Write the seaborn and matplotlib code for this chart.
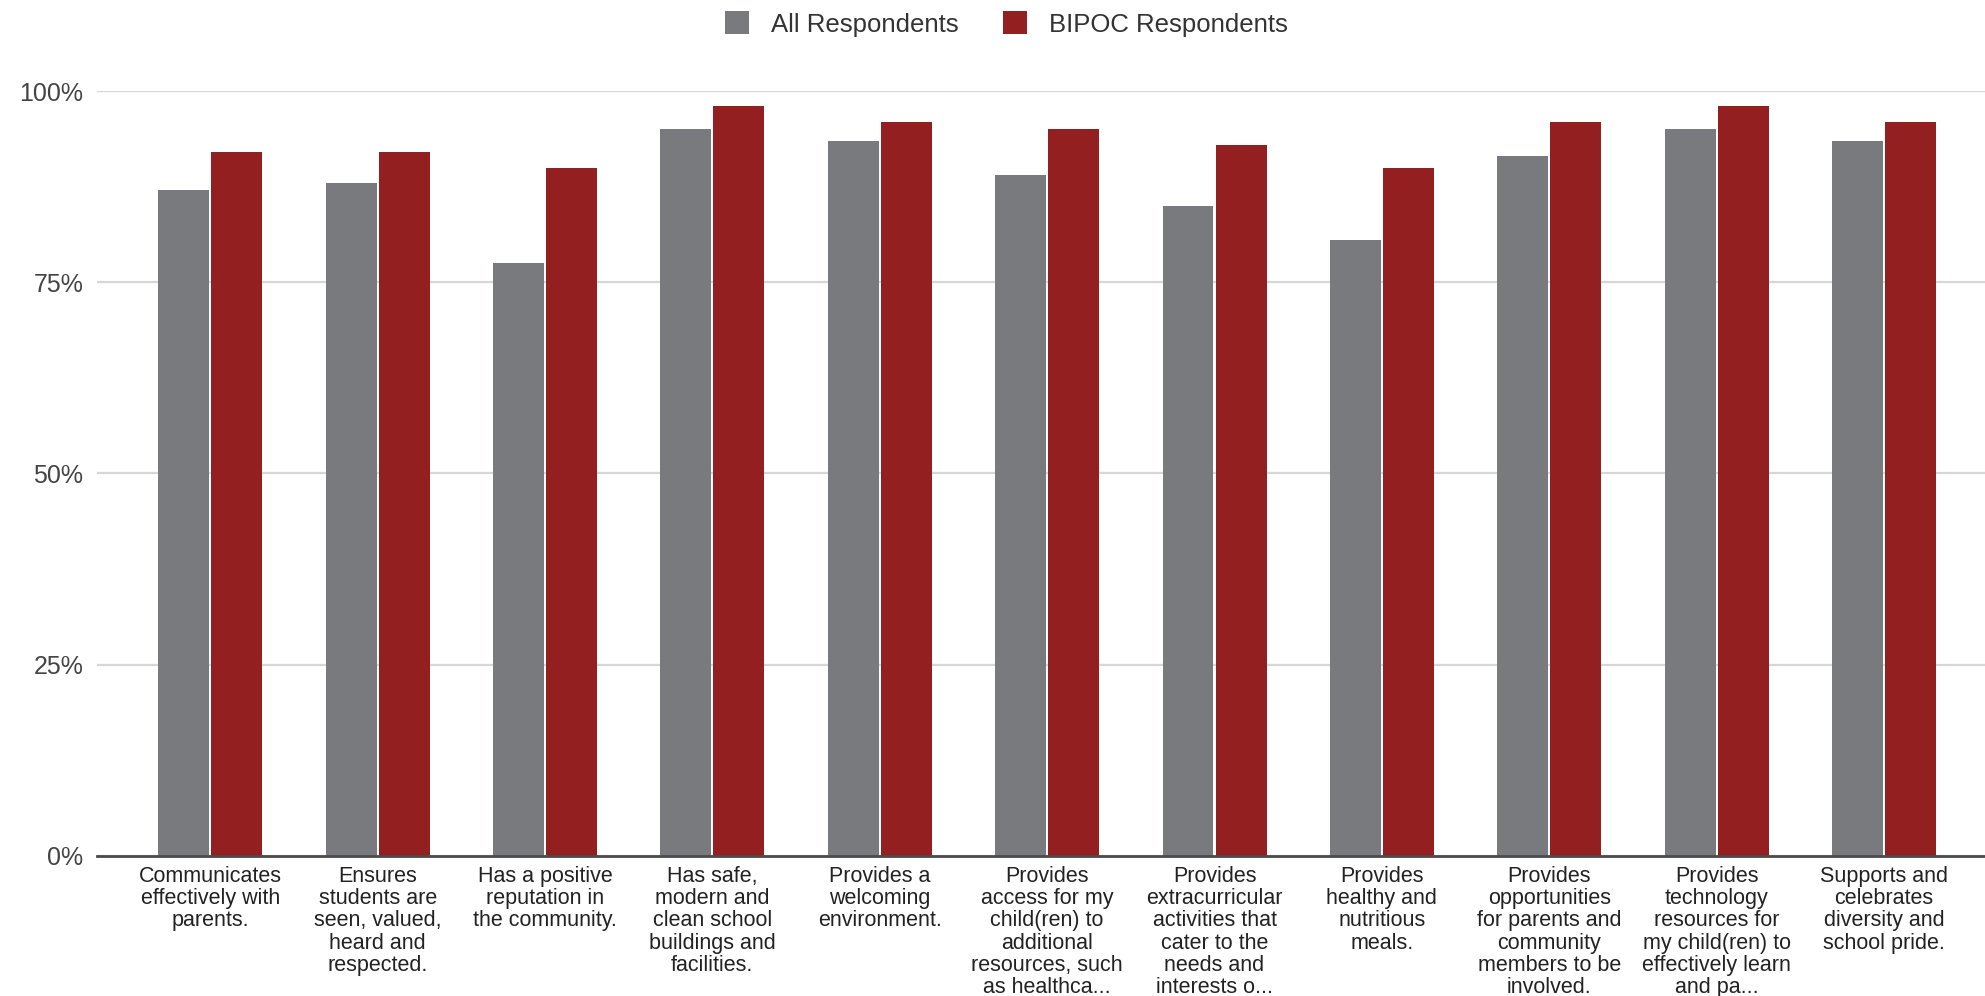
import matplotlib
matplotlib.use("Agg")
import matplotlib.pyplot as plt
import seaborn as sns
import pandas as pd
from matplotlib.ticker import PercentFormatter
from matplotlib.patches import Patch

categories = [
    "Communicates\neffectively with\nparents.",
    "Ensures\nstudents are\nseen, valued,\nheard and\nrespected.",
    "Has a positive\nreputation in\nthe community.",
    "Has safe,\nmodern and\nclean school\nbuildings and\nfacilities.",
    "Provides a\nwelcoming\nenvironment.",
    "Provides\naccess for my\nchild(ren) to\nadditional\nresources, such\nas healthca...",
    "Provides\nextracurricular\nactivities that\ncater to the\nneeds and\ninterests o...",
    "Provides\nhealthy and\nnutritious\nmeals.",
    "Provides\nopportunities\nfor parents and\ncommunity\nmembers to be\ninvolved.",
    "Provides\ntechnology\nresources for\nmy child(ren) to\neffectively learn\nand pa...",
    "Supports and\ncelebrates\ndiversity and\nschool pride.",
]
all_respondents = [0.87, 0.88, 0.775, 0.95, 0.935, 0.89, 0.85, 0.805, 0.915, 0.95, 0.935]
bipoc_respondents = [0.92, 0.92, 0.90, 0.98, 0.96, 0.95, 0.93, 0.90, 0.96, 0.98, 0.96]
series_names = ["All Respondents", "BIPOC Respondents"]
colors = ["#797a7e", "#931f21"]
y_ticks = [0, 0.25, 0.5, 0.75, 1.0]

df = pd.DataFrame({
    "category": categories * 2,
    "value": all_respondents + bipoc_respondents,
    "series": [series_names[0]] * len(categories) + [series_names[1]] * len(categories),
})

sns.set_theme(style="white")
plt.rcParams["font.family"] = ["Liberation Sans", "DejaVu Sans"]

fig = plt.figure(figsize=(19.85, 9.96), dpi=100)
ax = fig.add_axes([0.049, 0.1406, 0.951, 0.768])

sns.barplot(data=df, x="category", y="value", hue="series", order=categories,
            hue_order=series_names, palette=colors, width=0.634, gap=0.04,
            saturation=1, legend=False, ax=ax, linewidth=0)

ax.set_ylim(0, 1.0)
ax.set_xlim(-0.675, 10.603)
ax.set_yticks(y_ticks)
ax.yaxis.set_major_formatter(PercentFormatter(1.0, decimals=0))
ax.grid(axis="y", color="#d6d6d6", linewidth=1.6)
ax.set_axisbelow(True)
for s in ["top", "right", "left"]:
    ax.spines[s].set_visible(False)
ax.spines["bottom"].set_color("#4a4a4a")
ax.spines["bottom"].set_linewidth(2)
ax.spines["bottom"].set_zorder(5)
ax.set_xlabel("")
ax.set_ylabel("")
ax.tick_params(axis="y", length=0, pad=10, labelsize=18, labelcolor="#444444")
ax.tick_params(axis="x", length=0, pad=7, labelsize=15.5, labelcolor="#222222")
for lbl in ax.get_xticklabels():
    lbl.set_linespacing(1.08)
    lbl.set_ha("center")

handles = [Patch(facecolor=c, edgecolor="none") for c in colors]
fig.legend(handles, series_names, loc="center", bbox_to_anchor=(0.507, 0.976),
           ncol=2, frameon=False, fontsize=18.5, handlelength=0.95, handleheight=1.0,
           handletextpad=0.85, columnspacing=1.7, labelcolor="#333333")

fig.savefig("out.png", dpi=100)
